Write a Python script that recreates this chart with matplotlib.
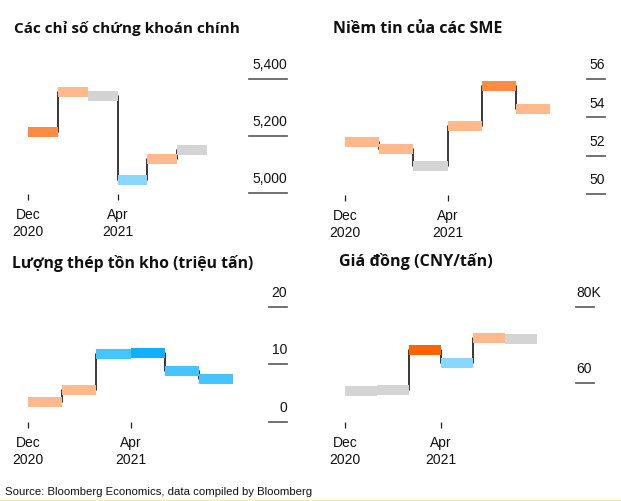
import matplotlib
matplotlib.use("Agg")
import matplotlib.pyplot as plt
from matplotlib.transforms import offset_copy
from matplotlib.lines import Line2D

plt.rcParams['font.family'] = ['Liberation Sans', 'DejaVu Sans']

W, H = 621, 501

# bars sit on periods 0..5, labels only on Dec 2020 and Apr 2021
periods = [0, 1, 2, 3, 4, 5]
x_ticks = [0, 3]
x_labels = ["Dec\n2020", "Apr\n2021"]

stock_vals = [5214, 5354, 5340, 5046, 5119, 5151]
sme_vals = [52.71, 52.33, 51.44, 53.57, 55.64, 54.45]
steel_vals = [3.5, 5.6, 11.8, 12.0, 8.9, 7.5]
copper_vals = [57.9, 58.2, 68.6, 65.3, 71.8, 71.6]

stock_ticks = [5000, 5200, 5400]
stock_tlabels = ["5,000", "5,200", "5,400"]
sme_ticks = [50, 52, 54, 56]
sme_tlabels = ["50", "52", "54", "56"]
steel_ticks = [0, 10, 20]
steel_tlabels = ["0", "10", "20"]
copper_ticks = [60, 80]
copper_tlabels = ["60", "80K"]

DARK_OR = "#ff8b43"
LIGHT_OR = "#ffb98c"
GREY = "#d4d4d4"
PALE_BLUE = "#88d7ff"
SKY = "#47c4ff"
DEEP_SKY = "#10b0ff"
RED_OR = "#ff6200"

stock_colors = [DARK_OR, LIGHT_OR, GREY, PALE_BLUE, LIGHT_OR, GREY]
sme_colors = [LIGHT_OR, LIGHT_OR, GREY, LIGHT_OR, DARK_OR, LIGHT_OR]
steel_colors = [LIGHT_OR, LIGHT_OR, SKY, DEEP_SKY, SKY, SKY]
copper_colors = [GREY, GREY, RED_OR, PALE_BLUE, LIGHT_OR, GREY]

titles = ["Các chỉ số chứng khoán chính", "Niềm tin của các SME",
          "Lượng thép tồn kho (triệu tấn)", "Giá đồng (CNY/tấn)"]
title_sizes = [11.0, 11.5, 11.3, 11.6]

fig = plt.figure(figsize=(W / 100, H / 100), dpi=100)

# layout in pixels: left, right, top, bottom, ylim, segment x0/x1, label align, title x/y
panels = [
    dict(box=(28, 207, 55, 194), ylim=(4996.5, 5484), seg=(249, 287), ha='right',
         tpos=(14, 29), vals=stock_vals, cols=stock_colors, ticks=stock_ticks, tl=stock_tlabels),
    dict(box=(345, 550, 55, 195), ylim=(49.95, 57.25), seg=(587, 605), ha='right',
         tpos=(333, 29), vals=sme_vals, cols=sme_colors, ticks=sme_ticks, tl=sme_tlabels),
    dict(box=(28, 233, 290, 422), ylim=(-0.05, 22.9), seg=(269, 287), ha='right',
         tpos=(12, 264), vals=steel_vals, cols=steel_colors, ticks=steel_ticks, tl=steel_tlabels),
    dict(box=(345, 537, 290, 422), ylim=(49.66, 84.4), seg=(576, 594), ha='left',
         tpos=(339, 262), vals=copper_vals, cols=copper_colors, ticks=copper_ticks, tl=copper_tlabels),
]

for p, title, tsize in zip(panels, titles, title_sizes):
    l, r, t, b = p['box']
    ax = fig.add_axes([l / W, 1 - b / H, (r - l) / W, (b - t) / H])
    ax.patch.set_visible(False)
    for s in ax.spines.values():
        s.set_visible(False)
    ax.set_xlim(0, 6)
    ax.set_ylim(*p['ylim'])
    ax.set_yticks([])
    ax.set_xticks(x_ticks, x_labels)
    ax.tick_params(axis='x', length=4.3, width=0.9, color='#222', pad=6,
                   labelsize=10, labelcolor='#111')

    vals = p['vals']
    xs = periods + [periods[-1] + 1]
    ax.step(xs, vals + [vals[-1]], where='post', color='black', lw=1.1, zorder=1)
    ax.hlines(vals, periods, [x + 1 for x in periods], colors=p['cols'], lw=7.2, zorder=2)

    tr = ax.get_yaxis_transform()
    tr_txt = offset_copy(tr, fig=fig, y=7, units='points')
    x0 = (p['seg'][0] - l) / (r - l)
    x1 = (p['seg'][1] - l) / (r - l)
    for v, lab in zip(p['ticks'], p['tl']):
        ax.plot([x0, x1], [v, v], color='#666', lw=1.3, transform=tr, clip_on=False)
        ax.text(x1 if p['ha'] == 'right' else x0, v, lab, ha=p['ha'], va='baseline',
                fontsize=10, color='#111', transform=tr_txt)

    fig.text(p['tpos'][0] / W, 1 - p['tpos'][1] / H, title, ha='left', va='center',
             fontsize=tsize, fontweight='bold', family='Open Sans', color='#111')

fig.text(5 / W, 1 - 492 / H, "Source: Bloomberg Economics, data compiled by Bloomberg",
         ha='left', va='center', fontsize=8.2, color='#111')
fig.add_artist(Line2D([0, 1], [0.5 / H, 0.5 / H], color='#ffe98a', lw=1.2,
                      transform=fig.transFigure))

fig.savefig("out.png", dpi=100)
